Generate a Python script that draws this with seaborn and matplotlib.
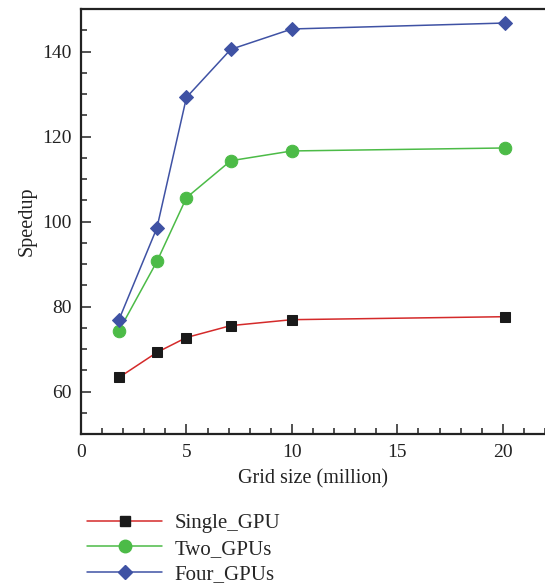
import numpy as np
import pandas as pd
import matplotlib
matplotlib.use("Agg")
import matplotlib.pyplot as plt
import seaborn as sns
from matplotlib.ticker import MultipleLocator

sns.set_theme(style="ticks")
plt.rcParams['font.family'] = ['Liberation Serif', 'DejaVu Serif']

grid_size = [1.8, 3.6, 5.0, 7.1, 10.0, 20.1]
single_gpu = [63.3, 69.2, 72.7, 75.5, 76.9, 77.6]
two_gpus = [74.3, 90.6, 105.6, 114.3, 116.6, 117.3]
four_gpus = [76.9, 98.5, 129.2, 140.5, 145.3, 146.7]

series_names = ["Single_GPU", "Two_GPUs", "Four_GPUs"]
series_values = [single_gpu, two_gpus, four_gpus]
line_colors = ["#d42a2a", "#4cbb47", "#3f52a4"]
marker_colors = ["#1a1a1a", "#4cbb47", "#3f52a4"]
markers = ["s", "o", "D"]
marker_sizes = [7, 9, 7]

fig = plt.figure(figsize=(5.45, 5.86), dpi=100)
ax = fig.add_axes([81/545, (586-434)/586, (545-81)/545, (434-9)/586])

handles = []
for name, vals, lc, mc, mk, ms in zip(series_names, series_values, line_colors, marker_colors, markers, marker_sizes):
    df = pd.DataFrame({"x": grid_size, "y": vals})
    sns.lineplot(data=df, x="x", y="y", ax=ax, color=lc, linewidth=1.1,
                 marker=mk, markersize=ms, markerfacecolor=mc, markeredgecolor=mc)
    h, = ax.plot([], [], color=lc, linewidth=1.1, marker=mk, markersize=ms,
                 markerfacecolor=mc, markeredgecolor=mc)
    handles.append(h)

ax.set_xlim(0, 22)
ax.set_ylim(50, 150)
ax.xaxis.set_major_locator(MultipleLocator(5))
ax.xaxis.set_minor_locator(MultipleLocator(1))
ax.yaxis.set_major_locator(MultipleLocator(20))
ax.yaxis.set_minor_locator(MultipleLocator(5))
ax.tick_params(which="both", direction="in", colors="#333333", labelsize=14, width=1.2)
ax.tick_params(which="major", length=7)
ax.tick_params(which="minor", length=4)
ax.tick_params(axis="both", labelcolor="#222222")
ax.tick_params(axis="x", which="major", pad=7)
ax.tick_params(axis="y", which="major", pad=7)
for s in ["left", "bottom", "top"]:
    ax.spines[s].set_linewidth(1.6)
    ax.spines[s].set_color("#222222")
ax.spines["right"].set_visible(False)

ax.set_xlabel("Grid size (million)", fontsize=14.5, color="#222222", labelpad=6)
ax.set_ylabel("Speedup", fontsize=14.5, color="#222222", labelpad=4)

fig.legend(handles, series_names, loc="upper left", bbox_to_anchor=(0.133, 0.148),
           frameon=False, fontsize=15, handlelength=3.6, labelspacing=0.27,
           handletextpad=0.6, borderpad=0.2)

fig.savefig("out.png", dpi=100)
